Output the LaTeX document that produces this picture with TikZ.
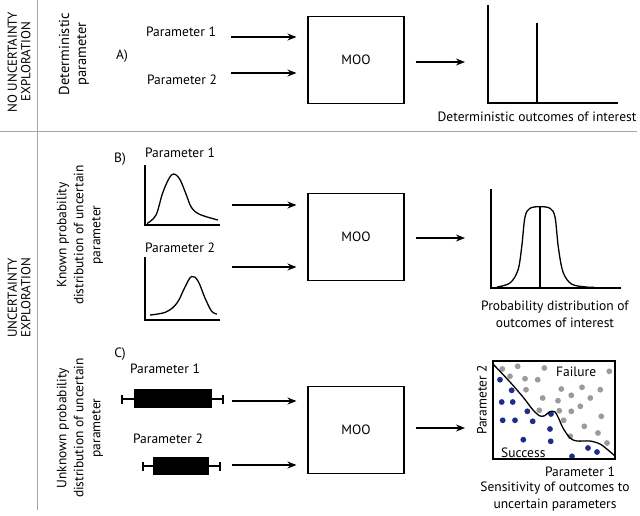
\documentclass[tikz,border=0pt]{standalone}
\usepackage{fontspec}
\setmainfont{PT Sans}
\usetikzlibrary{arrows.meta,calc}
\definecolor{sepgray}{RGB}{165,165,165}
\definecolor{dotblue}{RGB}{30,45,140}
\definecolor{dotgray}{RGB}{155,155,155}
\begin{document}
\begin{tikzpicture}[x=1pt,y=-1pt,
  lab/.style={font=\fontsize{13.5}{17}\selectfont, inner sep=0pt, align=center},
  rlab/.style={font=\fontsize{13.5}{17}\selectfont, inner sep=0pt, align=center, rotate=90},
  mainlab/.style={font=\fontsize{13}{13.5}\selectfont, inner sep=0pt, align=center, rotate=90},
  moobox/.style={draw, line width=1.1pt, minimum width=96pt, minimum height=87pt, inner sep=0pt, font=\fontsize{13.5}{17}\selectfont},
  arr/.style={line width=1.2pt, -{Stealth[length=9pt,width=7pt]}},
  sep/.style={draw=sepgray, line width=0.9pt},
  ax/.style={line width=1.1pt},
  crv/.style={line width=1.3pt},
  bd/.style={fill=dotblue},
  gd/.style={fill=dotgray},
]
\useasboundingbox (0,0) rectangle (640,515);
% separators
\draw[sep] (37,0) -- (37,510);
\draw[sep] (0,131) -- (637,131);
% left column labels
\node[mainlab] (noexp) at (19,62) {NO UNCERTAINTY\\EXPLORATION};
\node[mainlab] (unexp) at (19,298) {UNCERTAINTY\\EXPLORATION};
\node[rlab, font=\fontsize{14.5}{17}\selectfont] (detp) at (74,54) {Deterministic\\parameter};
\node[rlab] (knownp) at (80,235) {Known probability\\distribution of uncertain\\parameter};
\node[rlab] (unknownp) at (80,428) {Unknown probability\\distribution of uncertain\\parameter};
\node[lab] (la) at (122,56) {A)};
\node[lab] (lb) at (120,159) {B)};
\node[lab] (lc) at (120,354) {C)};
% ---------------- A ----------------
\node[lab] (pa1) at (181,32) {Parameter 1};
\node[lab] (pa2) at (182,80) {Parameter 2};
\node[moobox] (mooA) at (356,60) {MOO};
\coordinate (sa1) at (231,37);
\coordinate (sa2) at (231,73);
\draw[arr,shorten >=11pt] (sa1) -- (mooA.west |- sa1);
\draw[arr,shorten >=11pt] (sa2) -- (mooA.west |- sa2);
\coordinate (oa) at (465,62);
\draw[arr,shorten <=11pt] (mooA.east |- oa) -- (oa);
\draw[ax] (488,5) -- (488,103) -- (618,103);
\draw[ax] (537,23) -- (537,103);
\node[lab] (outa) at (537,117) {Deterministic outcomes of interest};
% ---------------- B ----------------
\node[lab] (pb1) at (180,153) {Parameter 1};
\node[lab] (pb2) at (180,248) {Parameter 2};
\draw[ax] (145,165) -- (145,225) -- (220,225);
\draw[crv] plot[smooth, tension=0.6] coordinates {(147,223.5) (156,215) (163,192) (171.5,175) (179,178) (186,194) (191.5,207.5) (200,214.5) (218,220)};
\draw[ax] (145,257) -- (145,320) -- (220,320);
\draw[crv] plot[smooth, tension=0.6] coordinates {(150,315) (166,312) (177,303) (185,287) (191.5,276.5) (198,281) (205,298) (211.5,311) (217,314)};
\node[moobox] (mooB) at (356,237) {MOO};
\coordinate (sb1) at (232,205);
\coordinate (sb2) at (232,267);
\draw[arr,shorten >=11pt] (sb1) -- (mooB.west |- sb1);
\draw[arr,shorten >=11pt] (sb2) -- (mooB.west |- sb2);
\coordinate (ob) at (465,238);
\draw[arr,shorten <=11pt] (mooB.east |- ob) -- (ob);
\draw[ax] (491,189) -- (491,288) -- (621,288);
\draw[crv] plot[smooth, tension=0.55] coordinates {(497,287) (510,283) (518,270) (521.7,247) (525,217) (530,208.3) (540,206.7) (550,208.3) (555,217) (558.3,247) (563,272) (571.5,284) (586,287) (594,287.3)};
\draw[ax] (540,207) -- (540,288);
\node[lab] (outb) at (555,314.5) {Probability distribution of\\outcomes of interest};
% ---------------- C ----------------
\node[lab] (pc1) at (165,369) {Parameter 1};
\node[lab] (pc2) at (168,439) {Parameter 2};
\draw[line width=1.1pt] (122,394.5) -- (122,403.5) (122,399) -- (223,399) (223,394.5) -- (223,403.5);
\fill (134,389) rectangle (212,408);
\draw[line width=1.1pt] (143,461.5) -- (143,470.5) (143,466) -- (220,466) (220,461.5) -- (220,470.5);
\fill (153,457) rectangle (209,475);
\node[moobox] (mooC) at (356,430) {MOO};
\coordinate (sc1) at (232,401);
\coordinate (sc2) at (232,465);
\draw[arr,shorten >=11pt] (sc1) -- (mooC.west |- sc1);
\draw[arr,shorten >=11pt] (sc2) -- (mooC.west |- sc2);
\coordinate (oc) at (465,428);
\draw[arr,shorten <=11pt] (mooC.east |- oc) -- (oc);
% scatter
\foreach \x/\y in {502.3/369, 517.7/366.3, 544.3/368, 510/376.3, 525/378.7, 537.7/379.7, 526/389.7, 542.7/398, 539.3/410.3, 609.3/371.3, 561.3/389, 582/387.3, 600.3/389.7, 558/400.7, 571.3/395.3, 590.3/398, 559.3/410.7, 571.3/411.3, 580.3/406.3, 563.7/420.3, 601.3/416.3, 584.3/426.3, 598/433, 570.3/436.3, 607/443}
  \fill[gd] (\x,\y) circle (2.9pt);
\foreach \x/\y in {500/379.7, 511.7/390.3, 501.7/402, 512.7/402, 527.3/411.3, 551/414, 502.7/420.3, 515/420.3, 532.7/421.3, 550/429, 523.3/439.7, 550.7/441.3, 588/448, 597/452, 572/456.3}
  \fill[bd] (\x,\y) circle (2.9pt);
\draw[line width=1.3pt] plot[smooth, tension=0.5] coordinates {(493,364) (510,382) (523,397) (533,410) (540,416) (545,415.5) (550,411.5) (555,412) (558.5,418) (563,428) (570,438) (577,441) (590,441) (600,444) (608,450) (615,456)};
\draw[line width=1.1pt] (493,361) rectangle (615,459);
\node[lab, anchor=west] (fail) at (556,372) {Failure};
\node[lab, anchor=west] (succ) at (501,453) {Success};
\node[lab, rotate=90] (sp2) at (482,400) {Parameter 2};
\node[lab] (sp1) at (580,472) {Parameter 1};
\node[lab] (outc) at (555,496.5) {Sensitivity of outcomes to\\uncertain parameters};
\end{tikzpicture}
\end{document}
